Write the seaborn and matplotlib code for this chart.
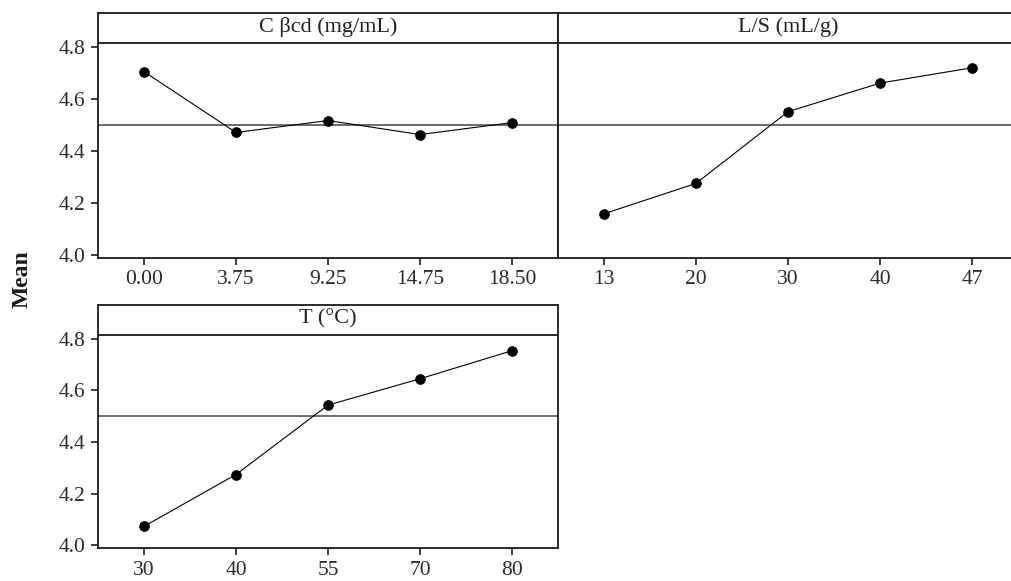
import matplotlib
matplotlib.use('Agg')
import matplotlib.pyplot as plt
import seaborn as sns
import pandas as pd
from matplotlib.ticker import FormatStrFormatter

# ========== data ==========
cbcd_levels = ['0.00', '3.75', '9.25', '14.75', '18.50']
cbcd_mean = [4.704, 4.470, 4.516, 4.462, 4.508]

ls_levels = ['13', '20', '30', '40', '47']
ls_mean = [4.157, 4.274, 4.550, 4.660, 4.719]

t_levels = ['30', '40', '55', '70', '80']
t_mean = [4.073, 4.274, 4.543, 4.645, 4.754]

grand_mean = 4.50
y_ticks = [4.0, 4.2, 4.4, 4.6, 4.8]

# ========== style ==========
sns.set_style('ticks')
plt.rcParams['font.family'] = ['Liberation Serif', 'DejaVu Serif']

W, H = 1011, 581
fig = plt.figure(figsize=(W / 100, H / 100), dpi=100)


def px_axes(x0, y0, x1, y1):
    # axes box given in pixel coords of the picture (top-left origin)
    return fig.add_axes([x0 / W, 1 - y1 / H, (x1 - x0) / W, (y1 - y0) / H])


def panel(ax, levels, means, title, show_y=True):
    df = pd.DataFrame({'level': levels, 'mean': means})
    sns.pointplot(data=df, x='level', y='mean', order=levels,
                  color='black', errorbar=None,
                  markersize=7, linewidth=0.8, ax=ax)
    ax.set_xlim(-0.5, len(levels) - 0.5)
    ax.set_ylim(3.988, 4.931)
    ax.axhline(grand_mean, color='#444444', lw=1.1, zorder=1)
    ax.axhline(4.815, color='#1a1a1a', lw=1.3, zorder=1)
    ax.text((len(levels) - 1) / 2, 4.876, title, ha='center', va='center',
            fontsize=16, color='#222222')
    ax.set_yticks(y_ticks)
    ax.yaxis.set_major_formatter(FormatStrFormatter('%.1f'))
    ax.set_xlabel('')
    ax.set_ylabel('')
    ax.tick_params(direction='out', length=5, width=1.2, labelsize=15.5,
                   pad=4, color='#1a1a1a', labelcolor='#2b2b2b')
    if not show_y:
        ax.tick_params(axis='y', left=False, labelleft=False)
    for s in ax.spines.values():
        s.set_visible(True)
        s.set_linewidth(1.3)
        s.set_color('#1a1a1a')


ax_c = px_axes(98, 12.7, 558, 257.7)
ax_ls = px_axes(558, 12.7, 1018, 257.7)
ax_t = px_axes(98, 305, 558, 548.3)

panel(ax_c, cbcd_levels, cbcd_mean, 'C βcd (mg/mL)')
panel(ax_ls, ls_levels, ls_mean, 'L/S (mL/g)', show_y=False)
panel(ax_t, t_levels, t_mean, 'T (°C)')

fig.text(22 / W, 1 - 279 / H, 'Mean', rotation=90, fontweight='bold',
         fontsize=17, ha='center', va='center', color='#1a1a1a')

fig.savefig('out.png', dpi=100)
